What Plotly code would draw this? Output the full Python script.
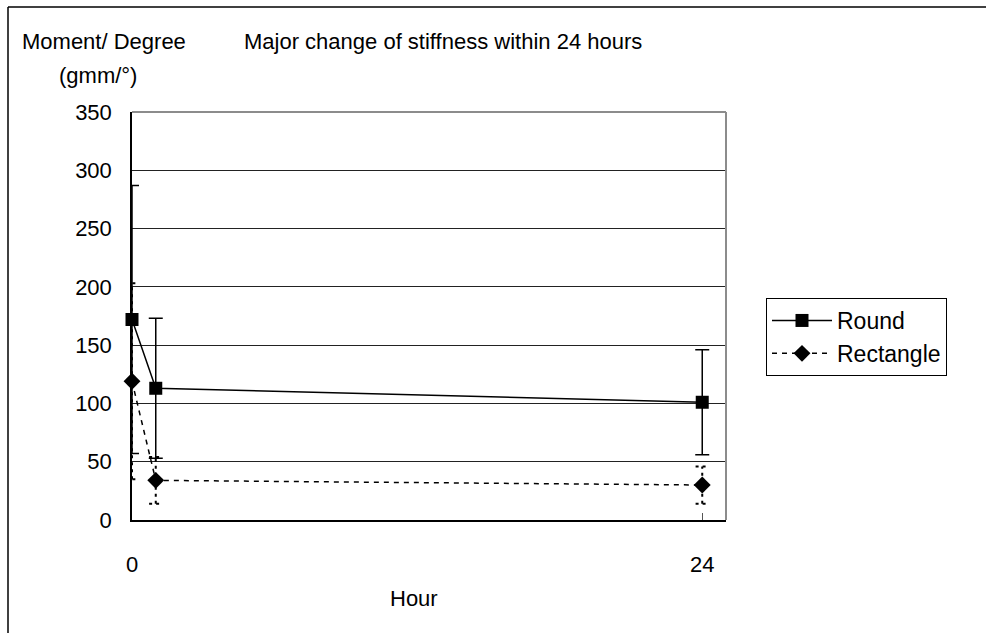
import plotly.graph_objects as go

hours = [0, 1, 24]
round_mean = [172, 113, 101]
round_sd = [115, 60, 45]
rect_mean = [119, 34, 30]
rect_sd = [84, 20, 16]

x_ticks = [0, 24]
y_ticks = [0, 50, 100, 150, 200, 250, 300, 350]

FONT = "Liberation Sans"

fig = go.Figure()

# Round series with solid error bars
fig.add_trace(go.Scatter(
    x=hours, y=round_mean, name="Round", mode="lines+markers",
    line=dict(color="black", width=1.5), cliponaxis=False,
    marker=dict(symbol="square", size=13, color="black"),
    error_y=dict(type="data", array=round_sd, visible=True,
                 color="black", thickness=1.5, width=7),
))

# Rectangle error bars as dotted lines
cap = 0.28
ex, ey = [], []
for xv, m, s in zip(hours, rect_mean, rect_sd):
    ex += [xv, xv, None, xv - cap, xv + cap, None, xv - cap, xv + cap, None]
    ey += [m - s, m + s, None, m + s, m + s, None, m - s, m - s, None]
fig.add_trace(go.Scatter(
    x=ex, y=ey, mode="lines", showlegend=False, hoverinfo="skip",
    cliponaxis=False,
    line=dict(color="black", width=2, dash="3px,4px"),
))

fig.add_trace(go.Scatter(
    x=hours, y=rect_mean, name="Rectangle", mode="lines+markers",
    cliponaxis=False,
    line=dict(color="black", width=1.5, dash="5px,5px"),
    marker=dict(symbol="diamond", size=13, color="black"),
))

L, R, T, B = 132, 986 - 726, 112, 633 - 520
W, H = 986, 633
pw, ph = W - L - R, H - T - B


def px(xp):
    return (xp - L) / pw


def py(yp):
    return (H - B - yp) / ph


fig.update_layout(
    width=W, height=H,
    margin=dict(l=L, r=R, t=T, b=B),
    paper_bgcolor="white", plot_bgcolor="white",
    font=dict(family=FONT, size=22, color="black"),
    showlegend=True,
    legend=dict(
        x=px(766), y=py(298), xanchor="left", yanchor="top",
        bordercolor="black", borderwidth=1, bgcolor="white",
        font=dict(size=23, family=FONT), tracegroupgap=0,
        itemwidth=60,
    ),
    xaxis=dict(
        range=[0, 25], tickvals=x_ticks, ticktext=[str(v) for v in x_ticks],
        showgrid=False, zeroline=False, showline=True, linecolor="black",
        linewidth=1.5, ticks="inside", ticklen=7, tickcolor="#555",
        ticklabelstandoff=24, tickfont=dict(size=22),
    ),
    yaxis=dict(
        range=[0, 350], tickvals=y_ticks,
        showgrid=True, gridcolor="#222", gridwidth=1,
        zeroline=False, showline=True, linecolor="black", linewidth=1.5,
        ticks="", ticklabelstandoff=14, tickfont=dict(size=22),
    ),
    shapes=[
        # plot area top and right border (gray)
        dict(type="line", xref="paper", yref="paper", x0=0, x1=1, y0=1, y1=1,
             line=dict(color="#8c8c8c", width=2)),
        dict(type="line", xref="paper", yref="paper", x0=1, x1=1, y0=0, y1=1,
             line=dict(color="#8c8c8c", width=2)),
        # outer chart border (left and top)
        dict(type="line", xref="paper", yref="paper", x0=px(8), x1=px(8),
             y0=py(7), y1=py(640), line=dict(color="black", width=1.5)),
        dict(type="line", xref="paper", yref="paper", x0=px(8), x1=px(990),
             y0=py(7), y1=py(7), line=dict(color="black", width=1.5)),
    ],
    annotations=[
        dict(text="Major change of stiffness within 24 hours", xref="paper",
             yref="paper", x=px(443), y=py(42), showarrow=False,
             xanchor="center", yanchor="middle", font=dict(size=22)),
        dict(text="Moment/ Degree", xref="paper", yref="paper",
             x=px(104), y=py(42), showarrow=False, xanchor="center",
             yanchor="middle", font=dict(size=22)),
        dict(text="(gmm/°)", xref="paper", yref="paper",
             x=px(98), y=py(75), showarrow=False, xanchor="center",
             yanchor="middle", font=dict(size=22)),
        dict(text="Hour", xref="paper", yref="paper",
             x=px(414), y=py(598), showarrow=False, xanchor="center",
             yanchor="middle", font=dict(size=22)),
    ],
)

fig.write_html(
    "out.html",
    config={"displayModeBar": False},
    post_script="document.body.style.margin='0';document.body.style.overflow='hidden';",
)
